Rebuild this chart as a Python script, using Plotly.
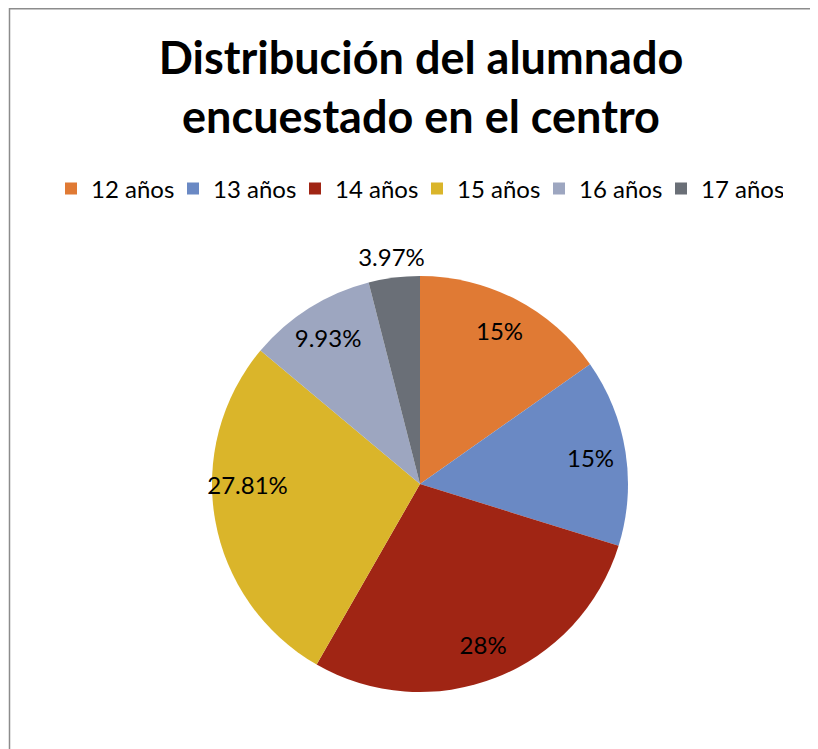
import plotly.graph_objects as go

# alumnos encuestados por edad
edades = ["12 años", "13 años", "14 años", "15 años", "16 años", "17 años"]
alumnos = [23, 22, 43, 42, 15, 6]
etiquetas = ["15%", "15%", "28%", "27.81%", "9.93%", "3.97%"]
colores = ["#E07A34", "#6A89C4", "#A02514", "#DAB52A", "#9DA6C0", "#6A6F77"]

W, H = 818, 749
OFF = 8  # page body margin, positions below are page pixels minus this
FONT = "Lato"

cx, cy, r = 420 - OFF, 484 - OFF, 208


def dominio(rad):
    return dict(x=[(cx - rad) / W, (cx + rad) / W], y=[(H - cy - rad) / H, (H - cy + rad) / H])


def capa_texto(textos, rad, hueco):
    # transparent copy of the pie, only used to place labels on a ring
    return go.Pie(
        labels=edades, values=alumnos, sort=False, direction="clockwise",
        rotation=0, domain=dominio(rad), hole=hueco, showlegend=False,
        text=textos, textinfo="text", hoverinfo="skip",
        textposition="inside", insidetextorientation="horizontal",
        textfont=dict(family=FONT, size=24, color="black"),
        marker=dict(colors=["rgba(0,0,0,0)"] * len(edades), line=dict(width=0)),
    )


fig = go.Figure()

# slices
fig.add_trace(go.Pie(
    labels=edades, values=alumnos, sort=False, direction="clockwise",
    rotation=0, domain=dominio(r), textinfo="none", hoverinfo="label+percent",
    marker=dict(colors=colores, line=dict(width=0)),
))

# labels inside the slices, last (small) one outside
fig.add_trace(capa_texto(etiquetas[:5] + [""], r, 0.66))
fig.add_trace(capa_texto([""] * 5 + etiquetas[5:], 250, r / 250))

fig.update_layout(
    width=W, height=H,
    margin=dict(l=0, r=0, t=0, b=0),
    paper_bgcolor="white",
    font=dict(family=FONT, color="black"),
    uniformtext=dict(minsize=24, mode="show"),
    title=dict(
        text="<b>Distribución del alumnado<br>encuestado en el centro</b>",
        x=(421 - OFF) / W, xanchor="center", xref="container",
        y=1 - 66 / H, yanchor="middle", yref="container",
        font=dict(family=FONT, size=45, color="black"),
    ),
    legend=dict(
        orientation="h", x=(417 - OFF) / W, xanchor="center",
        y=(H - 189 + OFF) / H, yanchor="middle",
        font=dict(family=FONT, size=24, color="black"),
        bgcolor="rgba(0,0,0,0)",
        entrywidth=77, entrywidthmode="pixels",
    ),
    shapes=[dict(
        type="rect", xref="paper", yref="paper",
        x0=1.5 / W, x1=1.05, y0=-0.05, y1=(H - 0.75) / H,
        line=dict(color="#8C8C8C", width=1.5),
    )],
)

fig.write_html("out.html")
